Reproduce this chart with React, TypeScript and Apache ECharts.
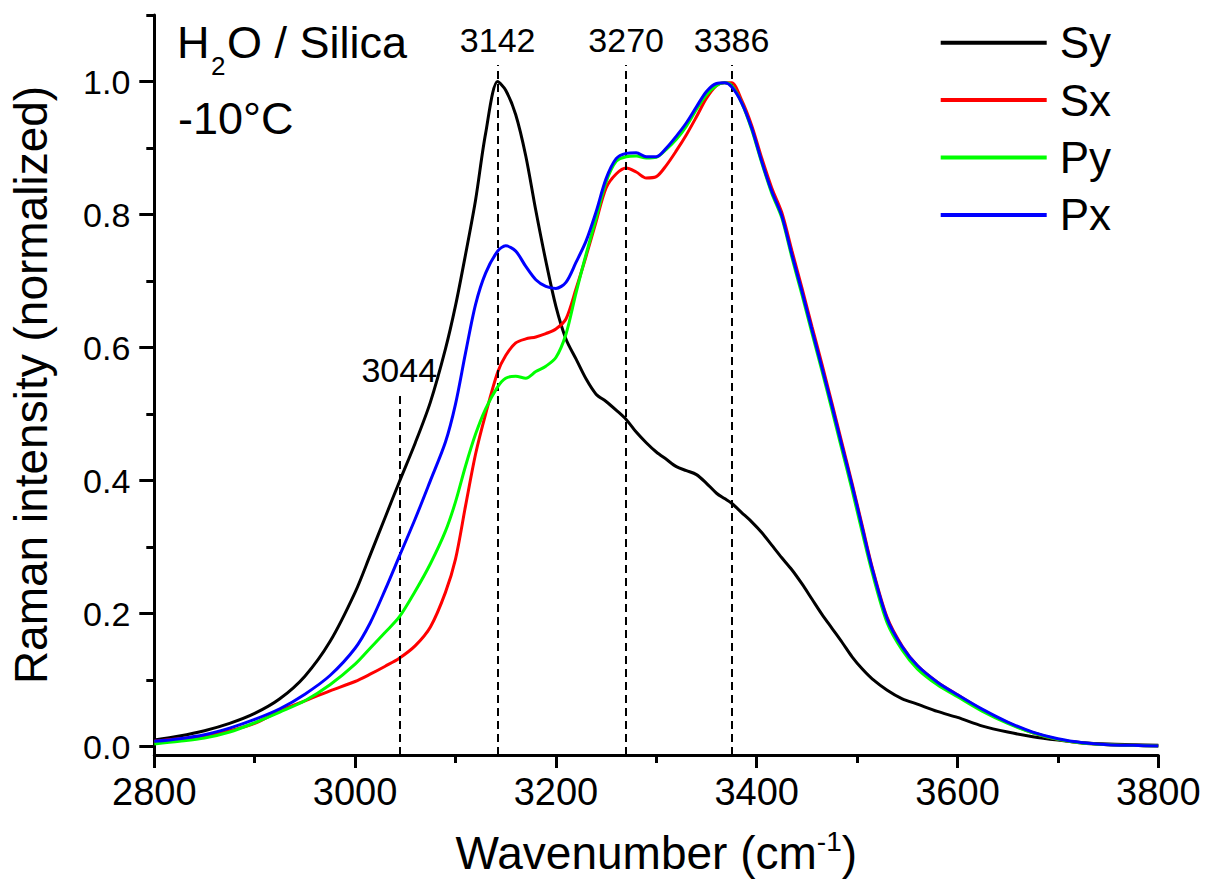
import { useEffect, useRef } from 'react';
import * as echarts from 'echarts';

const wavenumbers = [
  2800, 2825, 2850, 2875, 2900, 2925, 2950, 2975,
  3000, 3015, 3030, 3044,
  3060, 3075, 3090, 3100, 3110, 3120, 3130, 3142,
  3150, 3160, 3170, 3180, 3190, 3200, 3210, 3220, 3230, 3240,
  3250, 3260, 3270, 3280, 3290, 3300, 3310, 3320, 3330, 3340,
  3350, 3360, 3368, 3375, 3385, 3395, 3405, 3415, 3425,
  3435, 3445, 3455, 3465, 3475, 3485, 3495, 3505, 3515,
  3530, 3545, 3560, 3580, 3600, 3625, 3650, 3675, 3700, 3725, 3750, 3775, 3800,
];

const syValues = [
  0.010, 0.016, 0.024, 0.035, 0.050, 0.072, 0.106, 0.158,
  0.232, 0.288, 0.345, 0.398,
  0.457, 0.518, 0.598, 0.663, 0.740, 0.822, 0.922, 1.000,
  0.987, 0.950, 0.888, 0.806, 0.730, 0.662, 0.613, 0.583, 0.553, 0.530,
  0.519, 0.506, 0.492, 0.473, 0.457, 0.443, 0.432, 0.421, 0.415, 0.409,
  0.396, 0.381, 0.373, 0.366, 0.352, 0.338, 0.322, 0.303, 0.284,
  0.266, 0.245, 0.222, 0.199, 0.178, 0.157, 0.135, 0.117, 0.102,
  0.085, 0.072, 0.064, 0.053, 0.044, 0.031, 0.022, 0.015, 0.010, 0.006, 0.004, 0.003, 0.002,
];

const sxValues = [
  0.008, 0.012, 0.016, 0.024, 0.035, 0.054, 0.069, 0.084,
  0.098, 0.109, 0.121, 0.133,
  0.152, 0.180, 0.232, 0.282, 0.362, 0.440, 0.500, 0.563,
  0.588, 0.607, 0.613, 0.616, 0.621, 0.628, 0.643, 0.688, 0.737, 0.789,
  0.840, 0.861, 0.870, 0.864, 0.855, 0.857, 0.874, 0.896, 0.920, 0.947,
  0.975, 0.994, 0.998, 0.998, 0.972, 0.934, 0.885, 0.840, 0.803,
  0.746, 0.690, 0.632, 0.575, 0.516, 0.456, 0.396, 0.333, 0.270,
  0.194, 0.151, 0.122, 0.097, 0.078, 0.055, 0.036, 0.021, 0.011, 0.005, 0.003, 0.002, 0.001,
];

const pyValues = [
  0.004, 0.008, 0.013, 0.022, 0.036, 0.052, 0.069, 0.093,
  0.124, 0.148, 0.172, 0.195,
  0.234, 0.275, 0.324, 0.368, 0.422, 0.470, 0.508, 0.541,
  0.554, 0.557, 0.554, 0.564, 0.572, 0.585, 0.620, 0.682, 0.740, 0.794,
  0.849, 0.880, 0.887, 0.888, 0.885, 0.886, 0.898, 0.913, 0.933, 0.958,
  0.980, 0.994, 0.998, 0.994, 0.968, 0.928, 0.878, 0.832, 0.795,
  0.736, 0.680, 0.622, 0.565, 0.506, 0.446, 0.386, 0.323, 0.262,
  0.186, 0.145, 0.117, 0.093, 0.075, 0.053, 0.035, 0.021, 0.011, 0.005, 0.003, 0.002, 0.001,
];

const pxValues = [
  0.008, 0.012, 0.018, 0.028, 0.041, 0.057, 0.079, 0.107,
  0.148, 0.186, 0.236, 0.286,
  0.343, 0.400, 0.458, 0.515, 0.592, 0.665, 0.712, 0.745,
  0.753, 0.745, 0.722, 0.702, 0.692, 0.689, 0.698, 0.728, 0.760, 0.804,
  0.854, 0.884, 0.892, 0.893, 0.887, 0.887, 0.900, 0.918, 0.938, 0.962,
  0.985, 0.997, 0.998, 0.992, 0.968, 0.930, 0.880, 0.835, 0.798,
  0.740, 0.685, 0.627, 0.570, 0.512, 0.452, 0.393, 0.330, 0.268,
  0.192, 0.150, 0.122, 0.097, 0.078, 0.056, 0.037, 0.022, 0.012, 0.006, 0.003, 0.002, 0.001,
];

const seriesNames = ['Sy', 'Sx', 'Py', 'Px'];
const seriesColors = ['#000000', '#ff0000', '#00ff00', '#0000ff'];

const yTickValues = [0, 0.2, 0.4, 0.6, 0.8, 1.0];
const yMinorTickValues = [0.1, 0.3, 0.5, 0.7, 0.9, 1.1];

const peakLabels = ['3044', '3142', '3270', '3386'];
const peakLinePositions = [3044, 3142, 3270, 3375];
const peakLineTops = [0.529, 1.025, 1.025, 1.025];

export default function App() {
  const ref = useRef<HTMLDivElement>(null);

  useEffect(() => {
    if (!ref.current) return;
    const chart = echarts.init(ref.current, null, { renderer: 'svg' });
    const font = '"Liberation Sans", Arial, Helvetica, sans-serif';
    const yMin = -0.0125;
    const yMax = 1.1;
    const valueSets = [syValues, sxValues, pyValues, pxValues];

    const series: any[] = valueSets.map((vals, i) => ({
      name: seriesNames[i],
      type: 'line',
      data: wavenumbers.map((w, j) => [w, vals[j]]),
      showSymbol: false,
      symbol: 'none',
      smooth: 0.3,
      silent: true,
      z: 3 + i,
      lineStyle: { width: 3, color: seriesColors[i] },
      itemStyle: { color: seriesColors[i] },
    }));

    series[0].markLine = {
      silent: true,
      symbol: ['none', 'none'],
      lineStyle: { color: '#000', width: 2, type: [8, 5] },
      label: {
        show: true,
        position: 'end',
        distance: 8,
        formatter: (p: any) => peakLabels[p.dataIndex],
        fontSize: 34,
        fontFamily: font,
        color: '#000',
      },
      data: peakLinePositions.map((p, i) => [
        { coord: [p, yMin] },
        { coord: [p, peakLineTops[i]] },
      ]),
    };

    const axisColor = '#000';

    chart.setOption({
      animation: false,
      backgroundColor: '#fff',
      textStyle: { fontFamily: font, color: '#000' },
      grid: { left: 154.3, right: 48.7, top: 15, bottom: 129, containLabel: false },
      legend: {
        orient: 'vertical',
        left: 940.7,
        top: 19.7,
        padding: 0,
        itemWidth: 106,
        itemHeight: 4,
        itemGap: 11.4,
        icon: 'rect',
        selectedMode: false,
        data: seriesNames,
        textStyle: {
          fontSize: 44,
          lineHeight: 46,
          fontFamily: font,
          color: '#000',
          padding: [0, 0, 0, 8],
        },
      },
      xAxis: {
        type: 'value',
        min: 2800,
        max: 3800,
        interval: 200,
        name: '{a|Wavenumber (cm}{s|-1}{a|)}',
        nameLocation: 'middle',
        nameGap: 72,
        nameTextStyle: {
          rich: {
            a: { fontSize: 46, fontFamily: font, color: '#000', lineHeight: 52 },
            s: { fontSize: 28, fontFamily: font, color: '#000', verticalAlign: 'top', lineHeight: 28 },
          },
        },
        axisLine: { show: true, onZero: false, lineStyle: { color: axisColor, width: 3 } },
        axisTick: { show: true, length: 13, lineStyle: { color: axisColor, width: 3 } },
        minorTick: { show: true, splitNumber: 2, length: 8, lineStyle: { color: axisColor, width: 3 } },
        axisLabel: {
          fontSize: 38,
          fontFamily: font,
          color: '#000',
          margin: 18,
          formatter: (v: number) => String(Math.round(v)),
        },
        splitLine: { show: false },
        minorSplitLine: { show: false },
      },
      yAxis: [
        {
          type: 'value',
          min: yMin,
          max: yMax,
          name: 'Raman intensity (normalized)',
          nameLocation: 'middle',
          nameGap: 100,
          nameTextStyle: { fontSize: 46, fontFamily: font, color: '#000' },
          axisLine: { show: true, onZero: false, lineStyle: { color: axisColor, width: 3 } },
          axisTick: { show: true, length: 15, customValues: yTickValues, lineStyle: { color: axisColor, width: 3 } },
          axisLabel: {
            fontSize: 34,
            fontFamily: font,
            color: '#000',
            margin: 24,
            customValues: yTickValues,
            formatter: (v: number) => v.toFixed(1),
          },
          splitLine: { show: false },
        },
        {
          type: 'value',
          min: yMin,
          max: yMax,
          position: 'left',
          axisLine: { show: false },
          axisTick: { show: true, length: 8, customValues: yMinorTickValues, lineStyle: { color: axisColor, width: 3 } },
          axisLabel: { show: false },
          splitLine: { show: false },
        },
      ],
      graphic: [
        { type: 'text', x: 177, y: 42, silent: true, style: { text: 'H', fontSize: 45, fontFamily: font, fill: '#000', align: 'left', verticalAlign: 'middle' } },
        { type: 'text', x: 211, y: 66, silent: true, style: { text: '2', fontSize: 26, fontFamily: font, fill: '#000', align: 'left', verticalAlign: 'middle' } },
        { type: 'text', x: 227, y: 42, silent: true, style: { text: 'O / Silica', fontSize: 45, fontFamily: font, fill: '#000', align: 'left', verticalAlign: 'middle' } },
        { type: 'text', x: 178, y: 118, silent: true, style: { text: '-10°C', fontSize: 45, fontFamily: font, fill: '#000', align: 'left', verticalAlign: 'middle' } },
      ],
      series,
    });

    return () => {
      chart.dispose();
    };
  }, []);

  return (
    <div
      ref={ref}
      style={{ position: 'fixed', left: 0, top: 0, width: 1207, height: 884, background: '#fff' }}
    />
  );
}
